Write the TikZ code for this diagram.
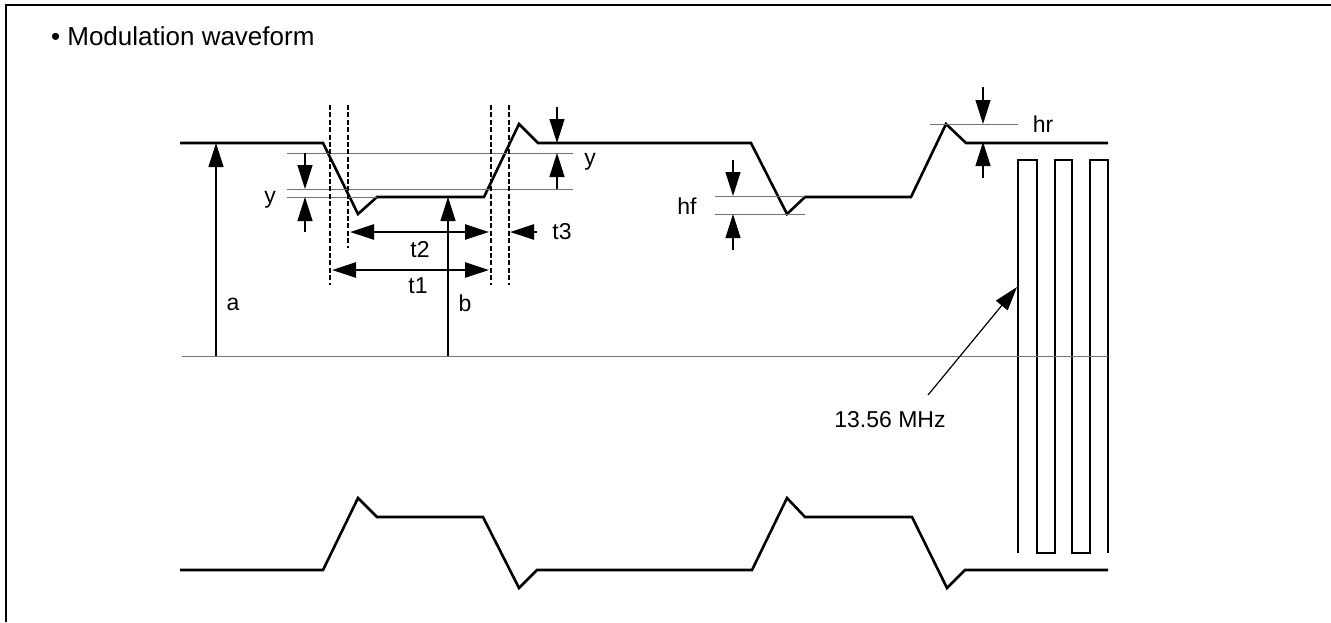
\documentclass[tikz,border=0pt]{standalone}
\usepackage{fontspec}
\setmainfont{Liberation Sans}
\usetikzlibrary{arrows.meta}
\usetikzlibrary{positioning}

\begin{document}
\begin{tikzpicture}[x=0.5pt,y=-0.5pt,>={Triangle[length=12pt,width=7.5pt]},
			font=\fontsize{11.5}{13}\selectfont]
			\tikzstyle{wave}=[line width=1.3pt]
			\tikzstyle{guide}=[line width=0.35pt,black!55]
			\tikzstyle{dashv}=[line width=0.6pt,dash pattern=on 2.5pt off 1.2pt]
			\tikzstyle{dim}=[->,line width=0.6pt]
			\tikzstyle{tspan}=[line width=1.3pt]
			
			\useasboundingbox (0,0) rectangle (1331,622);
			\draw[line width=1pt] (5.5,622) -- (5.5,5) -- (1331,5);
			\node[anchor=west,font=\fontsize{13}{15}\selectfont] (title) at (44,36) {• Modulation waveform};
			
			% waveforms and carrier
			\draw[wave] (180,143) -- (323,143) -- (358,214) -- (377,197) -- (484,197) -- (519,124) -- (538,143)
			-- (751,143) -- (787,214) -- (805,197) -- (911,197) -- (946,124) -- (966,143) -- (1108,143);
			\draw[wave] (180,570) -- (323,570) -- (358,498) -- (377,517) -- (483,517) -- (519,588) -- (537,570)
			-- (752,570) -- (787,498) -- (805,517) -- (912,517) -- (947,588) -- (965,570) -- (1108,570);
			\draw[wave] (1018,553) -- (1018,160) -- (1037,160) -- (1037,553) -- (1055,553) -- (1055,160)
			-- (1072,160) -- (1072,553) -- (1090,553) -- (1090,160) -- (1108,160) -- (1108,553);
			
			\draw[guide] (287,153) -- (573,153) (287,189) -- (573,189) (287,197) -- (377,197)
			(182,356) -- (1108,356) (715,196) -- (805,196) (715,214) -- (805,214) (930,124) -- (1018,124);
			\foreach \x/\y in {330/285,348/248,491/285,509/285}
			\draw[dashv] (\x,105) -- (\x,\y);
			
			\coordinate (ya1) at (305,153);  \coordinate (ya2) at (305,189);
			\coordinate (ya3) at (305,232);  \coordinate (ya4) at (305,197);
			\coordinate (yb1) at (557,107);  \coordinate (yb2) at (557,143);
			\coordinate (yb3) at (557,189);  \coordinate (yb4) at (557,153);
			\coordinate (t2l) at (350,232);  \coordinate (t2r) at (489,232);
			\coordinate (t1l) at (332,270);  \coordinate (t1r) at (489,270);
			\coordinate (t3s) at (537,232);  \coordinate (t3e) at (510,232);
			\coordinate (a0) at (216,356);   \coordinate (a1) at (216,143);
			\coordinate (b0) at (448,356);   \coordinate (b1) at (448,197);
			\coordinate (hf1) at (733,160);  \coordinate (hf2) at (733,196);
			\coordinate (hf3) at (733,250);  \coordinate (hf4) at (733,214);
			\coordinate (hr1) at (983,87);   \coordinate (hr2) at (983,124);
			\coordinate (hr3) at (983,178);  \coordinate (hr4) at (983,142);
			\coordinate (fc0) at (928,395);  \coordinate (fc1) at (1017,287);
			
			\node (ylbl) at (270,200) {y};
			\node (ylbr) at (590,162) {y};
			\node (t2) at (420,250) {t2};
			\node (t1) at (418,286) {t1};
			\node (t3) at (562,232) {t3};
			\node (a) at (233,304) {a};
			\node (b) at (465,303) {b};
			\node (hf) at (687,206) {hf};
			\node (hr) at (1043,124) {hr};
			\node (freq) at (890,420) {13.56 MHz};
			
			\path[dim] (ya1) edge (ya2) (ya3) edge (ya4)
			(yb1) edge (yb2) (yb3) edge (yb4)
			(a0) edge (a1) (b0) edge (b1)
			(hf1) edge (hf2) (hf3) edge (hf4)
			(hr1) edge (hr2) (hr3) edge (hr4)
			(fc0) edge (fc1);
			\draw[tspan,<->] (t2l) -- (t2r);
			\draw[tspan,<->] (t1l) -- (t1r);
			\draw[tspan,->] (t3s) -- (t3e);
\end{tikzpicture}
\end{document}
